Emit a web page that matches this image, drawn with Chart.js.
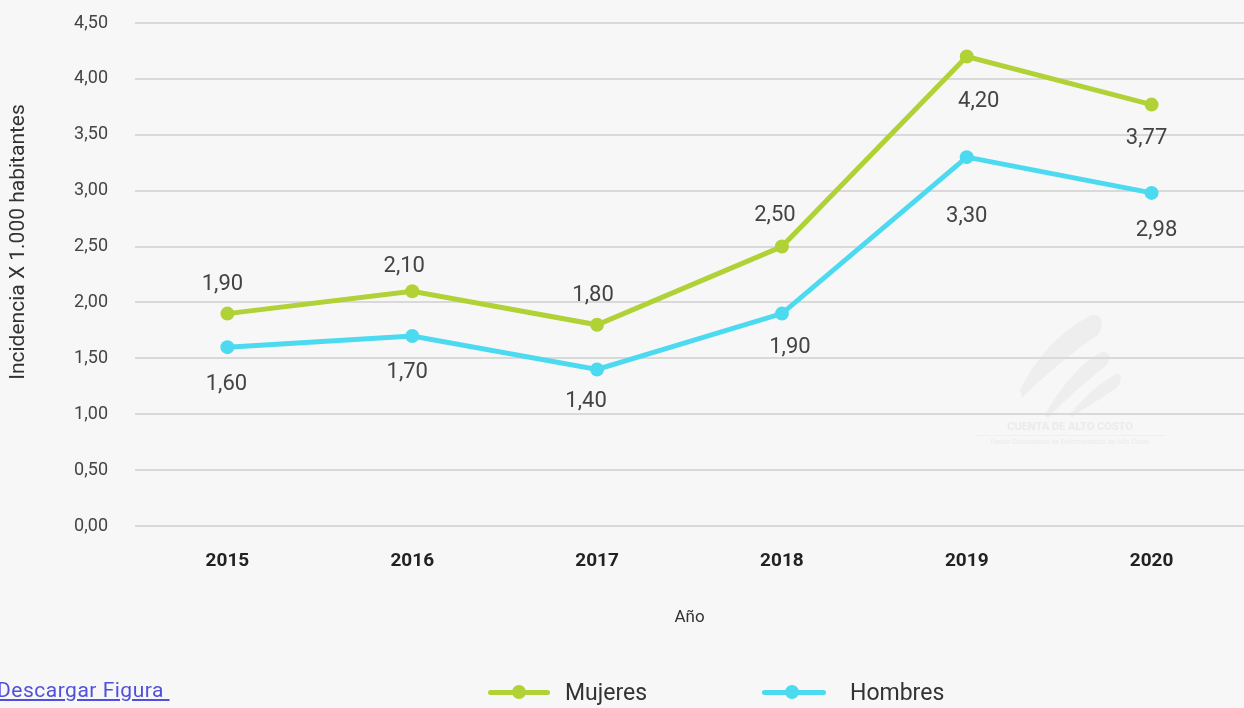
<!DOCTYPE html>
<html>
<head>
<meta charset="utf-8">
<script src="https://cdn.jsdelivr.net/npm/chart.js@4.4.1/dist/chart.umd.min.js"></script>
<style>
  html, body { margin: 0; padding: 0; background: #f7f7f7; overflow: hidden; }
  #wrap { position: relative; width: 1244px; height: 708px; overflow: hidden; }
  canvas { position: absolute; left: 0; top: 0; }
  .lnk { position: absolute; left: -3px; top: 678px; font: 21px Roboto, sans-serif; letter-spacing: 0.5px; color: #5050dc; text-decoration: underline; }
  .leg { position: absolute; top: 676px; height: 32px; display: flex; align-items: center; font: 23px Roboto, sans-serif; color: #333; }
  .sw { position: relative; width: 62px; height: 5px; border-radius: 3px; margin-right: 15px; }
  .sw i { position: absolute; left: 24px; top: -4.5px; width: 14px; height: 14px; border-radius: 50%; }
  .wm { position: absolute; left: 975px; top: 420px; width: 190px; text-align: center; font-family: Roboto, sans-serif; color: #ebebeb; }
</style>
</head>
<body>
<div id="wrap">
  <svg style="position:absolute;left:1010px;top:310px" width="120" height="110" viewBox="0 0 120 110">
    <path d="M10 80 C 30 40, 60 15, 82 5 C 92 3, 95 15, 88 25 C 65 40, 40 60, 12 88 Z" fill="#eeeeee"/>
    <path d="M35 105 C 55 70, 75 50, 92 42 C 100 40, 102 50, 96 56 C 80 68, 60 85, 38 108 Z" fill="#eeeeee"/>
    <path d="M60 105 C 75 85, 92 72, 106 64 C 112 62, 113 72, 106 78 C 92 88, 78 96, 62 107 Z" fill="#eeeeee"/>
  </svg>
  <div class="wm"><div style="font-weight:bold;font-size:11px;border-bottom:1px solid #efefef;padding-bottom:2px">CUENTA DE ALTO COSTO</div><div style="font-size:7px;margin-top:2px">Fondo Colombiano de Enfermedades de Alto Costo</div></div>
  <canvas id="c" width="1251" height="708"></canvas>
  <div class="lnk">Descargar Figura&nbsp;</div>
  <div class="leg" style="left:488px"><div class="sw" style="background:#b0d236"><i style="background:#b0d236"></i></div>Mujeres</div>
  <div class="leg" style="left:762px"><div class="sw" style="background:#4cdaf0;width:64px;margin-right:24px"><i style="background:#4cdaf0;left:23px"></i></div>Hombres</div>
</div>
<script>
const years = ['2015', '2016', '2017', '2018', '2019', '2020'];
const mujeres = [1.90, 2.10, 1.80, 2.50, 4.20, 3.77];
const hombres = [1.60, 1.70, 1.40, 1.90, 3.30, 2.98];
const seriesNames = ['Mujeres', 'Hombres'];
const yTitle = 'Incidencia X 1.000 habitantes';
const xTitle = 'Año';
const yMin = 0, yMax = 4.5, yStep = 0.5;

// label offsets relative to each point (styling)
const labelOffsets = [
  [[-5,-29],[-8,-25],[-4,-29],[-7,-31],[12,45],[-5,34]],
  [[-1,37],[-5,37],[-11,32],[8,34],[0,59],[5,38]]
];

const fmt = v => v.toFixed(2).replace('.', ',');

const dataLabels = {
  id: 'dataLabels',
  afterDatasetsDraw(chart) {
    const ctx = chart.ctx;
    ctx.save();
    ctx.font = '22px Roboto, sans-serif';
    ctx.fillStyle = '#444';
    ctx.textAlign = 'center';
    ctx.textBaseline = 'middle';
    chart.data.datasets.forEach((ds, di) => {
      chart.getDatasetMeta(di).data.forEach((pt, i) => {
        const o = labelOffsets[di][i];
        ctx.fillText(fmt(ds.data[i]), pt.x + o[0], pt.y + o[1]);
      });
    });
    // y axis title
    ctx.font = '21px Roboto, sans-serif';
    ctx.fillStyle = '#333';
    ctx.translate(19, 242);
    ctx.rotate(-Math.PI / 2);
    ctx.fillText(yTitle, 0, 0);
    ctx.restore();
  }
};

new Chart(document.getElementById('c'), {
  type: 'line',
  data: {
    labels: years,
    datasets: [
      { label: seriesNames[0], data: mujeres, borderColor: '#b0d236', backgroundColor: '#b0d236',
        borderWidth: 5, pointRadius: 7, pointHoverRadius: 7, pointBorderWidth: 0, tension: 0 },
      { label: seriesNames[1], data: hombres, borderColor: '#4cdaf0', backgroundColor: '#4cdaf0',
        borderWidth: 5, pointRadius: 7, pointHoverRadius: 7, pointBorderWidth: 0, tension: 0 }
    ]
  },
  options: {
    responsive: false,
    animation: false,
    layout: { padding: { top: 23, right: 0, left: 0, bottom: 0 } },
    plugins: { legend: { display: false }, tooltip: { enabled: false } },
    scales: {
      x: {
        offset: true,
        grid: { display: false, drawTicks: false },
        border: { display: false },
        ticks: { color: '#222', font: { family: 'Roboto, sans-serif', size: 19, weight: 'bold' }, padding: 24 },
        title: { display: true, text: xTitle, color: '#333', font: { family: 'Roboto, sans-serif', size: 17 }, padding: { top: 0, bottom: 80 } },
        afterFit(s) { s.height = 182; s.paddingLeft = 0; s.paddingRight = 0; }
      },
      y: {
        min: yMin, max: yMax,
        grid: { color: '#d9d9d9', lineWidth: 2, drawTicks: false },
        border: { display: false },
        ticks: { stepSize: yStep, color: '#444', font: { family: 'Roboto, sans-serif', size: 18 }, padding: 27, callback: v => fmt(v) },
        afterFit(s) { s.width = 135; s.paddingTop = 0; s.paddingBottom = 0; }
      }
    }
  },
  plugins: [dataLabels]
});
</script>
</body>
</html>
